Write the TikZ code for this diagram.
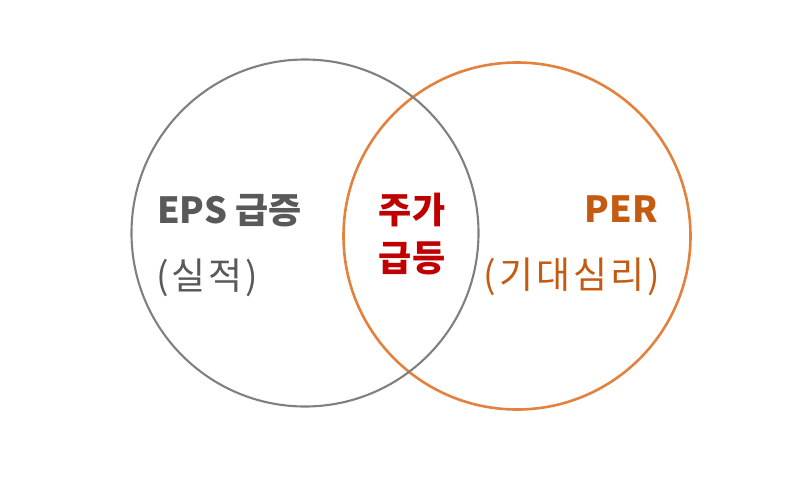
\documentclass[tikz,border=0pt]{standalone}
\usepackage{fontspec}
\setmainfont{Noto Sans CJK KR}
\definecolor{ringgray}{HTML}{808080}
\definecolor{ringorange}{HTML}{E3823E}
\definecolor{txtgray}{HTML}{595959}
\definecolor{txtorange}{HTML}{C55A11}
\definecolor{txtred}{HTML}{C00000}
\tikzset{
  ring/.style={circle, minimum size=347pt, inner sep=0pt},
  lbl/.style={inner sep=0pt, font=\fontsize{37}{48}\selectfont\addfontfeature{LetterSpace=8}},
  lblb/.style={inner sep=0pt, font=\fontsize{36}{48}\selectfont\bfseries},
}
\begin{document}
\begin{tikzpicture}[x=1pt,y=-1pt]
\useasboundingbox[fill=white] (0,0) rectangle (800,498);
\node[ring, draw=ringorange, line width=2.6pt] (right) at (517,236) {};
\node[ring, draw=ringgray, line width=2.1pt] (left) at (305,233) {};
\node[lblb, text=txtgray, anchor=west] (eps) at (157,211) {EPS 급증};
\node[lbl, text=txtgray, anchor=west] (eps2) at (156,278) {(실적)};
\node[lblb, text=txtred, align=center] (mid) at (412,234) {주가\\급등};
\node[lblb, text=txtorange, anchor=east] (per) at (658,209) {PER};
\node[lbl, text=txtorange, anchor=east] (per2) at (660,277) {(기대심리)};
\end{tikzpicture}
\end{document}
